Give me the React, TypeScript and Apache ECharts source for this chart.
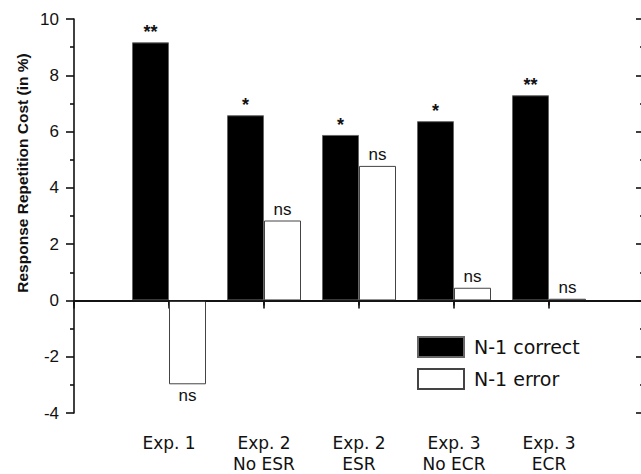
import React, { useEffect, useRef } from "react";
import * as echarts from "echarts";

const categories = ["", "Exp. 1", "Exp. 2\nNo ESR", "Exp. 2\nESR", "Exp. 3\nNo ECR", "Exp. 3\nECR", ""];
const correctValues = [9.17, 6.58, 5.88, 6.37, 7.29];
const errorValues = [-2.98, 2.84, 4.78, 0.45, 0.06];
const correctSig = ["**", "*", "*", "*", "**"];
const errorSig = ["ns", "ns", "ns", "ns", "ns"];
const yTicks = { min: -4, max: 10, interval: 2 };

const FONT = "Liberation Sans, Arial, sans-serif";
const WIDE = "DejaVu Sans, sans-serif";

function pad<T>(arr: T[]): (T | string)[] {
  return ["-", ...arr, "-"];
}

export default function App() {
  const ref = useRef<HTMLDivElement>(null);
  useEffect(() => {
    if (!ref.current) return;
    const chart = echarts.init(ref.current, undefined, { renderer: "svg" });
    const axisLine = { show: true, lineStyle: { color: "#111", width: 1.6 } };
    const tickStyle = { color: "#111", width: 1.6 };
    const mkData = (vals: number[], sig: string[]) =>
      pad(
        vals.map((v, i) => ({
          value: v,
          label: { position: v < 0 ? "bottom" : "top", formatter: sig[i] },
        }))
      );
    chart.setOption({
      animation: false,
      backgroundColor: "#fff",
      grid: { left: 74, top: 19, width: 570, height: 395, containLabel: false },
      legend: {
        orient: "vertical",
        left: 417,
        top: 336,
        itemWidth: 46,
        itemHeight: 20,
        itemGap: 10,
        padding: 0,
        icon: "rect",
        textStyle: { fontFamily: WIDE, fontSize: 19, color: "#111", padding: [0, 0, 0, 5] },
        data: ["N-1 correct", "N-1 error"],
      },
      xAxis: [
        {
          type: "category",
          position: "bottom",
          data: categories,
          boundaryGap: false,
          axisLine,
          axisTick: { show: true, inside: false, length: 8, lineStyle: tickStyle },
          axisLabel: {
            fontFamily: WIDE,
            fontSize: 17,
            lineHeight: 21,
            color: "#111",
            margin: 19,
            interval: 0,
          },
          splitLine: { show: false },
        },
        {
          type: "category",
          position: "top",
          data: categories,
          boundaryGap: false,
          axisLine,
          axisTick: { show: true, inside: true, length: 5, lineStyle: tickStyle },
          axisLabel: { show: false },
          splitLine: { show: false },
        },
      ],
      yAxis: [
        {
          type: "value",
          position: "left",
          min: yTicks.min,
          max: yTicks.max,
          interval: yTicks.interval,
          axisLine,
          axisTick: { show: true, inside: false, length: 8, lineStyle: tickStyle },
          minorTick: { show: true, splitNumber: 2, length: 4, lineStyle: tickStyle },
          axisLabel: { fontFamily: FONT, fontSize: 17, color: "#111", margin: 15 },
          splitLine: { show: false },
        },
        {
          type: "value",
          position: "right",
          min: yTicks.min,
          max: yTicks.max,
          interval: yTicks.interval,
          axisLine,
          axisTick: { show: true, inside: true, length: 8, lineStyle: tickStyle },
          minorTick: { show: true, splitNumber: 2, length: 4, lineStyle: tickStyle },
          axisLabel: { show: false },
          splitLine: { show: false },
        },
      ],
      graphic: [
        {
          type: "text",
          x: 22,
          y: 173,
          rotation: Math.PI / 2,
          style: {
            text: "Response Repetition Cost (in %)",
            font: `bold 15.5px ${FONT}`,
            fill: "#111",
            textAlign: "center",
            textVerticalAlign: "middle",
          },
        },
      ],
      series: [
        {
          name: "N-1 correct",
          type: "bar",
          xAxisIndex: 0,
          yAxisIndex: 0,
          barWidth: 37,
          barGap: "0%",
          data: mkData(correctValues, correctSig),
          itemStyle: { color: "#000", borderColor: "#666", borderWidth: 1 },
          label: { show: true, fontFamily: FONT, fontSize: 18, fontWeight: "bold", color: "#111", distance: 1 },
          markLine: {
            silent: true,
            symbol: ["none", "none"],
            label: { show: false },
            lineStyle: { color: "#111", width: 1.6, type: "solid" },
            data: [{ yAxis: 0 }],
          },
        },
        {
          name: "N-1 error",
          type: "bar",
          xAxisIndex: 0,
          yAxisIndex: 0,
          barWidth: 37,
          barGap: "0%",
          data: mkData(errorValues, errorSig),
          itemStyle: { color: "#fff", borderColor: "#444", borderWidth: 1 },
          label: { show: true, fontFamily: FONT, fontSize: 17, color: "#111", distance: 3 },
        },
      ],
    });
    return () => chart.dispose();
  }, []);
  return (
    <div style={{ position: "absolute", left: 0, top: 0, width: 641, height: 474, overflow: "hidden" }}>
      <div ref={ref} style={{ width: 660, height: 474 }} />
    </div>
  );
}
